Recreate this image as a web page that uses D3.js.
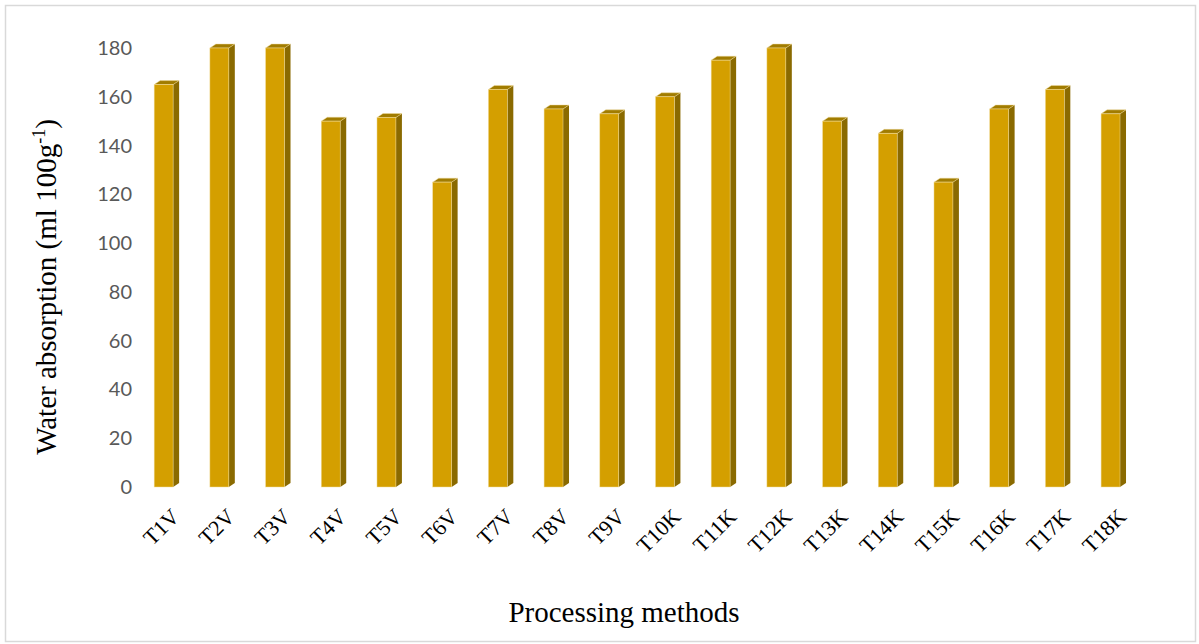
<!DOCTYPE html>
<html>
<head>
<meta charset="utf-8">
<script src="https://cdn.jsdelivr.net/npm/d3@7"></script>
<style>
  html, body { margin: 0; padding: 0; background: #ffffff; }
  svg { display: block; }
</style>
</head>
<body>
<svg id="chart" width="1199" height="644"></svg>
<script>
// Treatments (V = one variety, K = the other) and their water absorption
const categories = ["T1V", "T2V", "T3V", "T4V", "T5V", "T6V", "T7V", "T8V", "T9V",
                    "T10K", "T11K", "T12K", "T13K", "T14K", "T15K", "T16K", "T17K", "T18K"];
const waterAbsorption = [165, 180, 180, 150, 151.5, 125, 163, 155, 153,
                         160, 175, 180, 150, 145, 125, 155, 163, 153];
const yTicks = [0, 20, 40, 60, 80, 100, 120, 140, 160, 180];

const svg = d3.select("#chart");
const W = 1199, H = 644;

// chart frame
svg.append("rect")
  .attr("x", 5.5).attr("y", 5.5)
  .attr("width", W - 9).attr("height", H - 8)
  .attr("fill", "#ffffff")
  .attr("stroke", "#d9d9d9")
  .attr("stroke-width", 1.5);

const x = d3.scaleBand()
  .domain(categories)
  .range([135.8, 1138.4])
  .paddingInner(0.66)
  .paddingOuter(0.33);

const y = d3.scaleLinear()
  .domain([0, 180])
  .range([487, 48]);

// 3D extrusion offsets of each column
const depthX = 6, depthY = 4;

const colFront = "#d49f00";
const colSide = "#8a6a00";
const colTop = "#a17c00";
const edge = "#f2dea0";

// y tick labels
svg.append("g")
  .selectAll("text")
  .data(yTicks)
  .join("text")
  .attr("x", 132)
  .attr("y", d => y(d))
  .attr("dy", "0.35em")
  .attr("text-anchor", "end")
  .attr("font-family", "Lato, 'Liberation Sans', sans-serif")
  .attr("font-size", 20)
  .attr("fill", "#595959")
  .text(d => d);

// columns
const bars = svg.append("g")
  .selectAll("g")
  .data(categories.map((c, i) => ({ cat: c, v: waterAbsorption[i] })))
  .join("g");

bars.append("polygon")
  .attr("points", d => {
    const x1 = x(d.cat) + x.bandwidth(), y0 = y(0), y1 = y(d.v);
    return [[x1, y0], [x1 + depthX, y0 - depthY], [x1 + depthX, y1 - depthY], [x1, y1]].join(" ");
  })
  .attr("fill", colSide);

bars.append("polygon")
  .attr("points", d => {
    const x0 = x(d.cat), x1 = x0 + x.bandwidth(), y1 = y(d.v);
    return [[x0, y1], [x1, y1], [x1 + depthX, y1 - depthY], [x0 + depthX, y1 - depthY]].join(" ");
  })
  .attr("fill", colTop)
  .attr("stroke", edge)
  .attr("stroke-width", 0.6)
  .attr("stroke-opacity", 0.8);

bars.append("rect")
  .attr("x", d => x(d.cat))
  .attr("y", d => y(d.v))
  .attr("width", x.bandwidth())
  .attr("height", d => y(0) - y(d.v))
  .attr("fill", colFront)
  .attr("stroke", edge)
  .attr("stroke-width", 0.6)
  .attr("stroke-opacity", 0.8);

// x category labels
svg.append("g")
  .selectAll("text")
  .data(categories)
  .join("text")
  .attr("transform", d => `translate(${x(d) + x.bandwidth() / 2 + 17},${518}) rotate(-45)`)
  .attr("text-anchor", "end")
  .attr("font-family", "'Liberation Serif', 'Times New Roman', serif")
  .attr("font-size", 22)
  .attr("fill", "#000000")
  .text(d => d);

// axis titles
const yTitle = svg.append("text")
  .attr("transform", "translate(56,287) rotate(-90)")
  .attr("text-anchor", "middle")
  .attr("font-family", "'Liberation Serif', 'Times New Roman', serif")
  .attr("font-size", 29)
  .attr("fill", "#000000");
yTitle.append("tspan").text("Water absorption (ml 100g");
yTitle.append("tspan").attr("font-size", 18).attr("dy", -11).text("-1");
yTitle.append("tspan").attr("dy", 11).text(")");

svg.append("text")
  .attr("x", 624)
  .attr("y", 622)
  .attr("text-anchor", "middle")
  .attr("font-family", "'Liberation Serif', 'Times New Roman', serif")
  .attr("font-size", 29)
  .attr("fill", "#000000")
  .text("Processing methods");
</script>
</body>
</html>
